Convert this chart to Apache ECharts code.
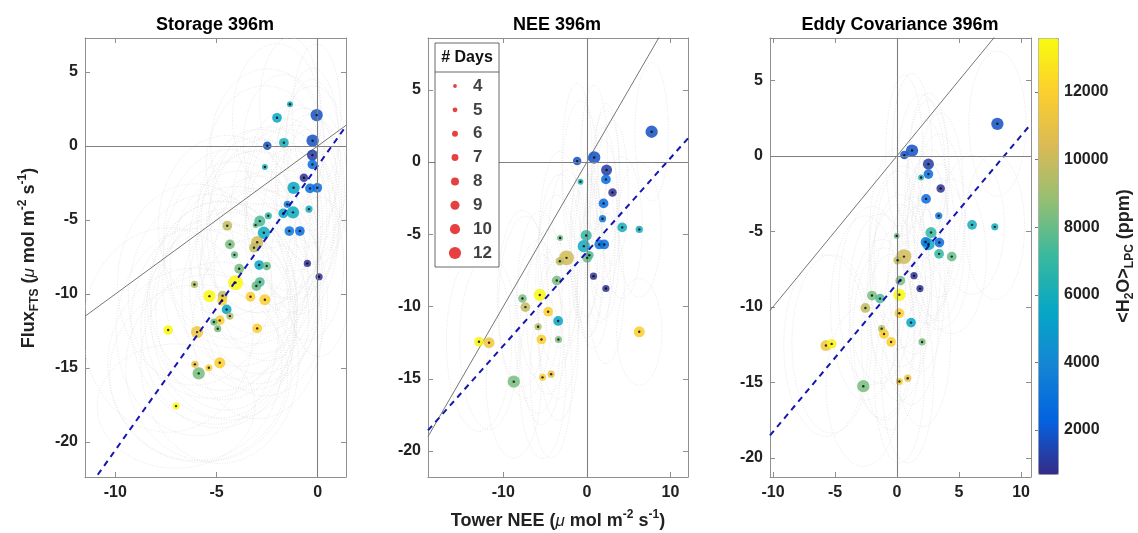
<!DOCTYPE html>
<html><head><meta charset="utf-8">
<script src="https://cdn.jsdelivr.net/npm/echarts@6/dist/echarts.min.js"></script>
<style>html,body{margin:0;padding:0;background:#fff}#c{width:1138px;height:533px}</style>
</head><body><div id="c"></div>
<script>
// ---------------- DATA ----------------
const panelTitles = ['Storage 396m', 'NEE 396m', 'Eddy Covariance 396m'];

// Panel 1: Storage
const storX = [-1.37,-2.01,-0.05,-2.49,-1.67,-0.25,-0.26,-0.26,-2.61,-0.68, -1.19,-0.38,-0.02,-1.5,-0.43,-1.22,-1.7,-2.44,-2.86,-3.07, -4.47,-2.66,-1.4,-0.88,-4.34,-2.99,-3.15,-4.11,-2.89,-2.52, -3.88,-0.51,0.07,-6.09,-4.06,-2.86,-3.03,-5.35,-4.7,-4.72, -3.32,-2.61,-4.5,-4.34,-4.84,-5.13,-4.94,-2.99,-7.39,-5.96, -4.84,-6.07,-5.38,-5.88,-7.0];
const storY = [2.82,1.91,2.09,0.02,0.22,0.36,-0.61,-1.24,-1.42,-2.14, -2.82,-2.86,-2.82,-3.94,-4.26,-4.48,-4.55,-4.71,-5.07,-5.34, -5.38,-5.86,-5.74,-5.74,-6.64,-6.5,-6.87,-7.35,-8.04,-8.1, -8.29,-7.93,-8.83,-9.35,-9.23,-9.19,-9.46,-10.14,-10.11,-10.45, -10.18,-10.38,-11.04,-11.49,-11.78,-11.89,-12.34,-12.32,-12.43,-12.57, -14.64,-14.75,-14.98,-15.36,-17.57];
const storH2O = [6000,5500,1800,1800,6000,1800,1200,2700,6500,900, 5500,2700,2700,3300,6000,5800,5500,7000,7500,8000, 9800,5800,3300,2700,8300,10200,9800,8000,5500,8000, 8300,900,900,9500,13500,7500,8000,13500,9800,12000, 12000,12000,5500,9500,12000,8000,8300,12000,13500,11400, 12000,11000,12000,8300,13500];
const storDays = [5,8,10,7,8,10,9,8,5,7, 10,8,8,6,6,10,8,6,9,5, 8,10,8,8,8,10,8,6,8,7, 8,6,6,6,12,8,8,10,8,8, 8,9,8,6,8,6,6,8,8,10, 9,6,6,10,6];
const storXErr = [1.5,2.2,1.2,2.8,2.0,1.3,1.4,1.8,2.9,1.6, 2.4,1.7,1.5,2.1,1.6,2.3,2.6,2.9,3.1,2.7, 3.4,2.8,2.2,1.9,3.3,3.0,3.2,3.5,2.9,2.6, 3.4,1.8,1.6,3.8,3.6,3.0,3.3,4.0,3.6,3.7, 3.4,3.1,3.5,3.9,3.7,4.1,3.8,3.2,4.2,4.0, 3.9,4.3,4.1,4.4,3.9];
const storYErr = [4.5,5.0,4.8,5.2,4.6,4.9,5.1,5.3,5.5,4.7, 5.6,5.0,5.2,5.8,5.4,5.9,5.7,6.0,6.2,5.9, 6.1,6.3,5.5,5.6,6.4,6.2,6.5,6.3,6.0,6.4, 6.6,5.2,5.4,6.8,6.5,6.2,6.6,6.9,6.4,6.7, 6.3,6.5,6.8,7.0,6.6,6.9,6.7,6.1,6.9,7.0, 6.8,6.5,6.3,6.0,4.2];

// Panel 2: NEE
const neeX = [7.75,-1.16,0.88,2.36,2.28,-0.76,3.07,2.0,1.88,4.23, 6.27,-0.08,-3.2,-0.36,1.48,2.08,-2.43,-3.23,0.04,0.8, 2.28,-3.6,-5.63,-7.7,-7.35,-4.63,-3.43,-5.83,6.27,-5.43, -3.4,-12.9,-11.7,-5.3,-4.27,-8.74,0.3];
const neeY = [2.1,0.07,0.32,-0.55,-1.2,-1.36,-2.1,-2.86,-3.92,-4.52, -4.66,-5.08,-5.26,-5.82,-5.7,-5.7,-6.63,-6.86,-6.63,-7.9, -8.75,-8.2,-9.2,-9.44,-10.04,-10.36,-11.0,-11.4,-11.75,-12.28, -12.28,-12.44,-12.5,-14.9,-14.68,-15.2,-6.45];
const neeH2O = [1800,1800,1800,1200,2700,6500,900,2700,3300,6000, 6000,7000,8000,5800,3300,2700,10200,9800,8000,900, 900,8300,13500,8300,9800,12000,5500,9500,12000,12000, 8300,13300,11400,11800,11000,8300,7500];
const neeDays = [10,7,10,9,8,5,7,8,6,8, 6,9,5,10,8,8,12,7,8,6, 6,8,10,7,8,8,8,6,9,8, 6,8,9,6,6,10,7];
const neeXErr = [2.0,1.8,1.6,1.5,1.7,2.2,1.9,1.6,2.0,2.4, 2.6,1.8,2.5,1.7,1.9,1.8,2.3,2.6,1.9,2.0, 2.2,2.5,2.7,3.0,3.2,2.6,2.4,2.8,2.7,2.6, 2.4,3.9,3.5,2.8,2.5,3.3,1.8];
const neeYErr = [4.8,5.4,5.0,4.6,4.8,5.6,5.0,5.2,5.5,4.9, 4.7,5.6,6.0,5.3,5.4,5.2,6.1,6.0,5.5,5.0, 5.2,5.9,5.8,6.1,6.3,5.7,5.4,6.0,3.7,5.9, 5.6,6.2,6.0,5.6,5.8,5.3,5.6];

// Panel 3: Eddy covariance
const ecX = [8.09,0.59,1.21,2.53,2.53,1.94,3.52,2.34,3.36,6.05, 7.88,2.74,-0.03,2.53,3.41,2.3,0.56,0.05,3.39,4.41, 1.37,1.85,0.27,0.19,-2.02,-1.37,-2.55,0.19,1.13,-1.24, -1.05,-0.48,2.02,-5.73,-5.27,0.19,0.86,-2.72];
const ecY = [2.12,0.05,0.35,-0.55,-1.21,-1.43,-2.16,-2.85,-3.97,-4.57, -4.7,-5.08,-5.3,-5.85,-5.74,-5.7,-6.67,-6.91,-6.49,-6.67, -7.93,-8.79,-8.26,-9.2,-9.25,-9.45,-10.07,-10.42,-11.04,-11.44, -11.79,-12.32,-12.32,-12.56,-12.45,-14.94,-14.72,-15.25];
const ecH2O = [1800,1800,1800,1200,2700,6500,900,2700,3300,6000, 6000,7000,8000,5800,2700,3300,10200,9800,7000,8000, 900,900,8300,13500,8300,7500,9800,12000,5500,9500, 12000,12000,8300,11400,13300,11800,11000,8300];
const ecDays = [10,7,10,9,8,5,7,8,6,8, 6,9,5,10,8,8,12,7,8,8, 6,6,8,10,8,8,8,8,8,6, 8,8,6,9,8,6,6,10];
const ecXErr = [2.3,1.5,1.6,1.6,1.7,2.0,1.8,1.7,2.1,2.6, 2.4,1.9,2.2,1.8,2.0,1.9,2.4,2.3,2.5,2.8, 2.1,2.0,2.4,2.6,2.7,2.5,2.8,2.3,2.2,2.6, 2.5,2.4,2.3,3.4,3.2,2.0,2.1,3.0];
const ecYErr = [4.8,5.3,5.1,4.7,4.9,5.5,5.0,5.2,5.4,4.6, 4.8,5.5,5.8,5.3,5.2,5.4,6.0,5.9,5.0,5.1, 5.2,5.5,5.7,6.0,5.9,5.6,6.1,5.8,5.4,5.9, 5.7,5.8,5.6,6.0,5.9,5.4,5.6,5.3];

// Regression (dashed) lines: slope, intercept per panel
const fitSlope = [1.92, 0.65, 0.98];
const fitIntercept = [-1.34, -6.22, -8.47];

// Tick labels
const xTicks = [[-10, -5, 0], [-10, 0, 10], [-10, -5, 0, 5, 10]];
const yTicks = [[-20, -15, -10, -5, 0, 5], [-20, -15, -10, -5, 0, 5], [-20, -15, -10, -5, 0, 5]];
const legendDays = [4, 5, 6, 7, 8, 9, 10, 12];
const cbarTicks = [2000, 4000, 6000, 8000, 10000, 12000];
const h2oMin = 700, h2oMax = 13600;

// ---------------- LAYOUT ----------------
const FONT = "'Liberation Sans', Arial, Helvetica, sans-serif";
const panelData = [
  {X: storX, Y: storY, H: storH2O, D: storDays, XE: storXErr, YE: storYErr},
  {X: neeX, Y: neeY, H: neeH2O, D: neeDays, XE: neeXErr, YE: neeYErr},
  {X: ecX, Y: ecY, H: ecH2O, D: ecDays, XE: ecXErr, YE: ecYErr}
];
const panelLayout = [
  {left: 85, width: 261, xMin: -11.5, xMax: 1.4, yMin: -22.36, yMax: 7.3},
  {left: 428, width: 260, xMin: -19.0, xMax: 12.1, yMin: -21.8, yMax: 8.59},
  {left: 770, width: 261, xMin: -10.24, xMax: 10.8, yMin: -21.26, yMax: 7.8}
];
const TOP = 38, HEIGHT = 439;
const parula = ['#352a87','#0363e1','#1485d4','#06a7c6','#38b99e','#92bf73','#d9ba56','#fcce2e','#f9fb0e'];
const sizeFn = d => 1.05 * d - 0.4;
const PLOT_SCALE = 1.22;
const AX = '#8f8f8f';

const grid = [], xAxis = [], yAxis = [], series = [], markerIdx = [];
panelLayout.forEach((p, i) => {
  grid.push({left: p.left, top: TOP, width: p.width, height: HEIGHT});
  const common = {type: 'value', gridIndex: i, splitLine: {show: false},
    axisLine: {onZero: false, lineStyle: {color: AX, width: 1}}};
  xAxis.push(Object.assign({}, common, {position: 'bottom', min: p.xMin, max: p.xMax,
    axisTick: {inside: true, length: 5, lineStyle: {color: AX}, customValues: xTicks[i]},
    axisLabel: {customValues: xTicks[i], margin: 8, color: '#222', fontSize: 16, fontWeight: 'bold', fontFamily: FONT}}));
  xAxis.push(Object.assign({}, common, {position: 'top', min: p.xMin, max: p.xMax,
    axisTick: {inside: true, length: 5, lineStyle: {color: AX}, customValues: xTicks[i]},
    axisLabel: {show: false}}));
  yAxis.push(Object.assign({}, common, {position: 'left', min: p.yMin, max: p.yMax,
    axisTick: {inside: true, length: 5, lineStyle: {color: AX}, customValues: yTicks[i]},
    axisLabel: {customValues: yTicks[i], margin: 7, color: '#222', fontSize: 16, fontWeight: 'bold', fontFamily: FONT}}));
  yAxis.push(Object.assign({}, common, {position: 'right', min: p.yMin, max: p.yMax,
    axisTick: {inside: true, length: 5, lineStyle: {color: AX}, customValues: yTicks[i]},
    axisLabel: {show: false}}));

  const d = panelData[i];
  const xi = 2 * i, yi = 2 * i;
  // error ellipses
  series.push({type: 'custom', xAxisIndex: xi, yAxisIndex: yi, clip: true, silent: true, z: 1,
    data: d.X.map((x, j) => [x, d.Y[j], d.XE[j], d.YE[j]]), encode: {x: 0, y: 1},
    renderItem: (params, api) => {
      const c = api.coord([api.value(0), api.value(1)]);
      const s = api.size([api.value(2), api.value(3)], [api.value(0), api.value(1)]);
      return {type: 'ellipse', shape: {cx: c[0], cy: c[1], rx: s[0], ry: s[1]},
        style: {fill: 'none', stroke: '#e2e2e2', lineWidth: 0.8, lineDash: [1, 1.6]}};
    }});
  // 1:1 line + zero lines
  series.push({type: 'line', xAxisIndex: xi, yAxisIndex: yi, clip: true, silent: true, z: 2,
    symbol: 'none', data: [[p.xMin, p.xMin], [p.xMax, p.xMax]],
    lineStyle: {color: '#666', width: 0.9},
    markLine: {silent: true, symbol: 'none', label: {show: false},
      lineStyle: {color: '#808080', width: 1.1, type: 'solid'},
      data: [{yAxis: 0}, {xAxis: 0}]}});
  // coloured markers
  markerIdx.push(series.length);
  series.push({type: 'scatter', xAxisIndex: xi, yAxisIndex: yi, z: 3, silent: true,
    data: d.X.map((x, j) => [x, d.Y[j], d.H[j], d.D[j]]), encode: {x: 0, y: 1},
    symbolSize: v => PLOT_SCALE * sizeFn(v[3]), itemStyle: {opacity: 0.85}});
  // regression line
  series.push({type: 'line', xAxisIndex: xi, yAxisIndex: yi, clip: true, silent: true, z: 4,
    symbol: 'none',
    data: [[p.xMin, fitSlope[i] * p.xMin + fitIntercept[i]], [p.xMax, fitSlope[i] * p.xMax + fitIntercept[i]]],
    lineStyle: {color: '#1515b0', width: 2, type: [6, 5]}});
  // black centre dots
  series.push({type: 'scatter', xAxisIndex: xi, yAxisIndex: yi, z: 5, silent: true,
    data: d.X.map((x, j) => [x, d.Y[j]]), symbolSize: 2.4, itemStyle: {color: '#000'}});
});

// Legend "# Days" grid (index 3)
grid.push({left: 435, top: 43, width: 64, height: 224, show: true, z: 10,
  backgroundColor: '#fff', borderColor: '#444', borderWidth: 0.8});
xAxis.push({type: 'value', gridIndex: 3, min: 0, max: 1, show: false});
yAxis.push({type: 'value', gridIndex: 3, min: -1.802, max: 7.587, inverse: true, show: false});
series.push({type: 'scatter', xAxisIndex: 6, yAxisIndex: 6, z: 11, silent: true,
  data: legendDays.map((dd, i) => [0.3125, i, dd]), symbolSize: v => sizeFn(v[2]),
  itemStyle: {color: '#e01010'}});
series.push({type: 'scatter', xAxisIndex: 6, yAxisIndex: 6, z: 11, silent: true,
  data: legendDays.map((dd, i) => [0.594, i, dd]), symbolSize: 0,
  label: {show: true, position: 'right', distance: 0, formatter: p => String(p.value[2]),
    color: '#111', fontSize: 17, fontWeight: 'bold', fontFamily: FONT}});

// Colorbar axis grid (index 4)
grid.push({left: 1038, top: 38, width: 20, height: 436});
xAxis.push({type: 'value', gridIndex: 4, show: false, min: 0, max: 1});
yAxis.push({type: 'value', gridIndex: 4, position: 'right', min: h2oMin, max: h2oMax,
  splitLine: {show: false}, axisLine: {show: false},
  axisTick: {show: true, inside: true, length: 3, lineStyle: {color: '#777'}, customValues: cbarTicks},
  axisLabel: {customValues: cbarTicks, formatter: v => String(v), margin: 6, color: '#222', fontSize: 16, fontWeight: 'bold', fontFamily: FONT}});

const richAx = {
  m: {fontSize: 18, fontWeight: 'bold', fontFamily: FONT, lineHeight: 24, verticalAlign: 'middle', fill: '#222'},
  mu: {fontSize: 17, fontStyle: 'italic', fontFamily: FONT, lineHeight: 24, verticalAlign: 'middle', fill: '#222'},
  sup: {fontSize: 12, fontWeight: 'bold', fontFamily: FONT, lineHeight: 24, verticalAlign: 'top', fill: '#222'},
  sub: {fontSize: 12, fontWeight: 'bold', fontFamily: FONT, lineHeight: 24, verticalAlign: 'bottom', fill: '#222'}
};

const graphic = [
  {type: 'text', x: 215, y: 25, style: {text: panelTitles[0], font: 'bold 18px ' + FONT, fill: '#000', align: 'center', verticalAlign: 'middle'}},
  {type: 'text', x: 557, y: 25, style: {text: panelTitles[1], font: 'bold 18px ' + FONT, fill: '#000', align: 'center', verticalAlign: 'middle'}},
  {type: 'text', x: 900, y: 25, style: {text: panelTitles[2], font: 'bold 18px ' + FONT, fill: '#000', align: 'center', verticalAlign: 'middle'}},
  {type: 'text', x: 558, y: 521, z: 20, style: {text: '{m|Tower NEE (}{mu|μ}{m| mol m}{sup|-2}{m| s}{sup|-1}{m|)}', rich: richAx, align: 'center', verticalAlign: 'middle'}},
  {type: 'text', x: 29, y: 258, rotation: Math.PI / 2, z: 20, style: {text: '{m|Flux}{sub|FTS}{m| (}{mu|μ}{m| mol m}{sup|-2}{m| s}{sup|-1}{m|)}', rich: richAx, align: 'center', verticalAlign: 'middle'}},
  {type: 'text', x: 1124, y: 256, rotation: Math.PI / 2, z: 20, style: {text: '{m|<H}{sub|2}{m|O>}{sub|LPC}{m| (ppm)}', rich: richAx, align: 'center', verticalAlign: 'middle'}},
  {type: 'text', x: 467, y: 58, z: 30, style: {text: '# Days', font: 'bold 16px ' + FONT, fill: '#111', align: 'center', verticalAlign: 'middle'}},
  {type: 'line', z: 30, shape: {x1: 435, y1: 72, x2: 499, y2: 72}, style: {stroke: '#444', lineWidth: 0.8}}
];

const chart = echarts.init(document.getElementById('c'), null, {renderer: 'canvas'});
chart.setOption({
  animation: false,
  backgroundColor: '#fff',
  grid, xAxis, yAxis, series, graphic,
  visualMap: {type: 'continuous', min: h2oMin, max: h2oMax, dimension: 2, seriesIndex: markerIdx,
    orient: 'vertical', left: 1038, top: 38, itemWidth: 20, itemHeight: 436, padding: 0,
    calculable: false, hoverLink: false, text: null, showLabel: false,
    borderColor: '#aaa', borderWidth: 1,
    inRange: {color: parula}}
});
</script>
</body></html>
